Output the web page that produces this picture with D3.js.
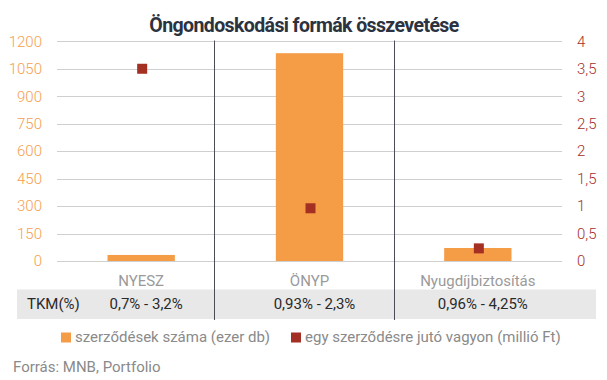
<!DOCTYPE html>
<html><head><meta charset="utf-8">
<script src="https://cdn.jsdelivr.net/npm/d3@7/dist/d3.min.js"></script>
<style>
html,body{margin:0;padding:0;background:#fff;}
svg{display:block;font-family:Roboto,"Noto Sans",sans-serif;}
</style></head>
<body><svg id="c" width="607" height="380"></svg>
<script>
const categories = ["NYESZ", "ÖNYP", "Nyugdíjbiztosítás"];
const contracts = [33, 1135, 71];          // szerződések száma (ezer db)
const wealthPerContract = [3.5, 0.96, 0.23]; // egy szerződésre jutó vagyon (millió Ft)
const tkm = ["0,7% - 3,2%", "0,93% - 2,3%", "0,96% - 4,25%"];
const leftTicks = [0, 150, 300, 450, 600, 750, 900, 1050, 1200];
const rightTicks = [0, 0.5, 1, 1.5, 2, 2.5, 3, 3.5, 4];

const svg = d3.select("#c");
const M = {left: 57, right: 562, top: 41.3, bottom: 261};
const x = d3.scaleBand().domain(categories).range([M.left, M.right]).padding(0);
const yL = d3.scaleLinear().domain([0, 1200]).range([M.bottom, M.top]);
const yR = d3.scaleLinear().domain([0, 4]).range([M.bottom, M.top]);
const fmtR = d => String(d).replace(".", ",");

// title
svg.append("text").attr("x", 304).attr("y", 32).attr("text-anchor", "middle")
  .attr("font-size", 19.5).attr("font-weight", 700).attr("fill", "#2b3240")
  .attr("letter-spacing", -0.6)
  .text("Öngondoskodási formák összevetése");

// gridlines
svg.append("g").selectAll("line").data(leftTicks).join("line")
  .attr("x1", M.left).attr("x2", M.right)
  .attr("y1", d => Math.round(yL(d)) + 0.5).attr("y2", d => Math.round(yL(d)) + 0.5)
  .attr("stroke", "#cfcfcf").attr("stroke-width", 1);

// left axis labels
const axL = svg.append("g").attr("transform", `translate(${42},0)`)
  .call(d3.axisLeft(yL).tickValues(leftTicks).tickSize(0).tickPadding(0).tickFormat(d3.format("d")));
axL.select(".domain").remove();
axL.selectAll("text").attr("font-size", 15).attr("fill", "#f5a050")
  .attr("font-family", "Roboto, sans-serif").attr("font-weight", 300);

// right axis labels
const axR = svg.append("g").attr("transform", `translate(${577},0)`)
  .call(d3.axisRight(yR).tickValues(rightTicks).tickSize(0).tickPadding(0).tickFormat(fmtR));
axR.select(".domain").remove();
axR.selectAll("text").attr("font-size", 15).attr("fill", "#a3302a")
  .attr("font-family", "Roboto, sans-serif").attr("font-weight", 300);

// table band
svg.append("rect").attr("x", 17).attr("y", 289.5).attr("width", 579).attr("height", 29.5)
  .attr("fill", "#e8e8e8");

// bars
const bw = x.bandwidth() * 0.4;
svg.append("g").selectAll("rect").data(categories).join("rect")
  .attr("x", (d) => x(d) + (x.bandwidth() - bw) / 2)
  .attr("width", bw)
  .attr("y", (d, i) => yL(contracts[i]))
  .attr("height", (d, i) => yL(0) - yL(contracts[i]))
  .attr("fill", "#f59c46");

// markers
const ms = 10;
svg.append("g").selectAll("rect").data(categories).join("rect")
  .attr("x", d => x(d) + x.bandwidth() / 2 - ms / 2 + 1)
  .attr("y", (d, i) => yR(wealthPerContract[i]) - ms / 2)
  .attr("width", ms).attr("height", ms)
  .attr("fill", "#a33023");

// dividers (table column borders)
const divX = [x(categories[1]) - x.step() * 0.065, x(categories[2])];
svg.append("g").selectAll("line").data(divX).join("line")
  .attr("x1", d => Math.round(d) + 0.5).attr("x2", d => Math.round(d) + 0.5)
  .attr("y1", 40.5).attr("y2", 320)
  .attr("stroke", "#4a4d55").attr("stroke-width", 1);

// category labels
svg.append("g").selectAll("text").data(categories).join("text")
  .attr("x", d => x(d) + x.bandwidth() / 2).attr("y", 286)
  .attr("text-anchor", "middle").attr("font-size", 15).attr("fill", "#9a9a9a")
  .text(d => d);

// TKM row
svg.append("text").attr("x", 27).attr("y", 309).attr("font-size", 15).attr("fill", "#2a2a2a")
  .text("TKM(%)");
svg.append("g").selectAll("text").data(categories).join("text")
  .attr("x", d => x(d) + x.bandwidth() / 2 + 5).attr("y", 309)
  .attr("text-anchor", "middle").attr("font-size", 15).attr("fill", "#2a2a2a")
  .text((d, i) => tkm[i]);

// legend
const legend = [
  {label: "szerződések száma (ezer db)", color: "#f59c46", x: 61},
  {label: "egy szerződésre jutó vagyon (millió Ft)", color: "#a33023", x: 291}
];
const lg = svg.append("g").selectAll("g").data(legend).join("g")
  .attr("transform", d => `translate(${d.x},332.5)`);
lg.append("rect").attr("width", 10).attr("height", 10).attr("fill", d => d.color);
lg.append("text").attr("x", 14).attr("y", 9.5).attr("font-size", 15).attr("fill", "#8a8a8a")
  .text(d => d.label);

// source
svg.append("text").attr("x", 13).attr("y", 372).attr("font-size", 15).attr("fill", "#8a8a8a")
  .text("Forrás: MNB, Portfolio");
</script></body></html>
